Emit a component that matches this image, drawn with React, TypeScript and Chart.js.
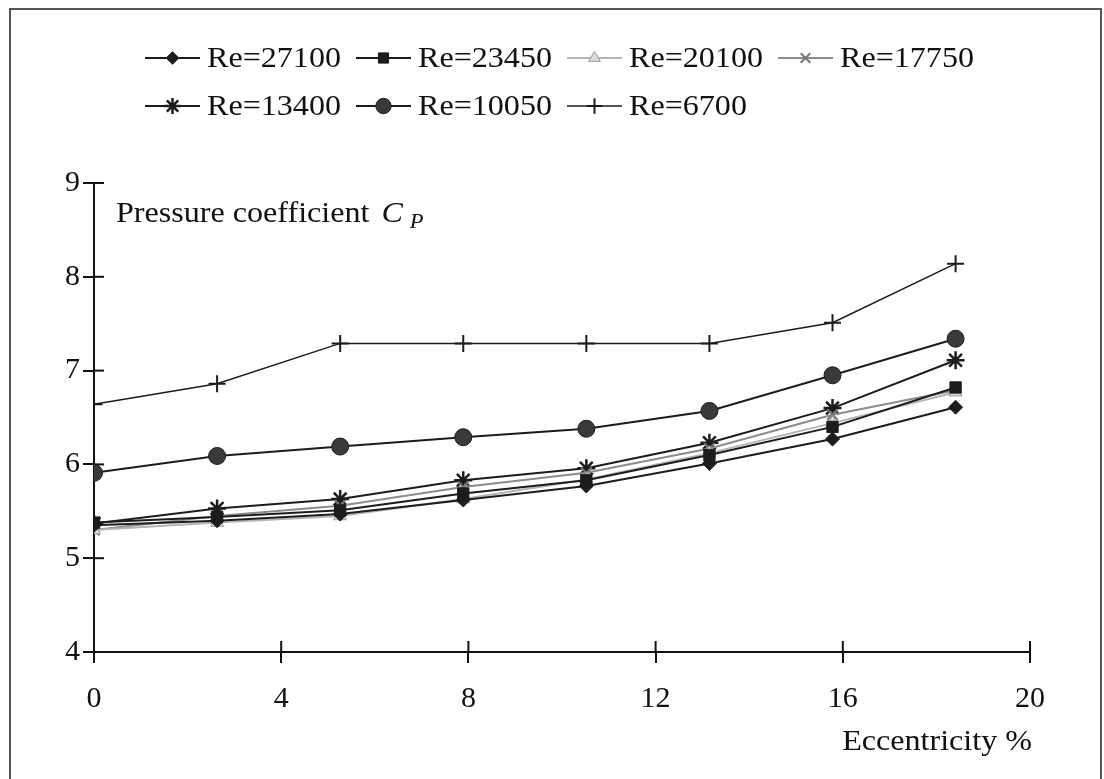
import React, { useEffect, useRef } from 'react';
import { Chart, registerables } from 'chart.js';
import { drawPoint } from 'chart.js/helpers';

Chart.register(...registerables);

const FONT = "'Liberation Serif', 'Times New Roman', Times, serif";

// ---- data ----
const eccentricity = [0, 2.63, 5.26, 7.89, 10.52, 13.15, 15.78, 18.41];
const seriesLabels = ['Re=27100', 'Re=23450', 'Re=20100', 'Re=17750', 'Re=13400', 'Re=10050', 'Re=6700'];
const re27100 = [5.35, 5.40, 5.47, 5.62, 5.77, 6.01, 6.27, 6.61];
const re23450 = [5.38, 5.44, 5.51, 5.69, 5.83, 6.10, 6.40, 6.82];
const re20100 = [5.30, 5.38, 5.45, 5.63, 5.84, 6.12, 6.44, 6.77];
const re17750 = [5.30, 5.45, 5.56, 5.76, 5.91, 6.17, 6.53, 6.79];
const re13400 = [5.37, 5.53, 5.63, 5.83, 5.96, 6.23, 6.60, 7.11];
const re10050 = [5.91, 6.09, 6.19, 6.29, 6.38, 6.57, 6.95, 7.34];
const re6700 = [6.64, 6.86, 7.29, 7.29, 7.29, 7.29, 7.51, 8.14];
const seriesValues = [re27100, re23450, re20100, re17750, re13400, re10050, re6700];
const xTicks = [0, 4, 8, 12, 16, 20];
const yTicks = [4, 5, 6, 7, 8, 9];
const xTitle = 'Eccentricity %';
const yTitle = 'Pressure coefficient ';

// ---- styles ----
const seriesStyles = [
  { line: '#1c1c1c', width: 2, point: 'rectRot', radius: 7, fill: '#1c1c1c', border: '#1c1c1c', bw: 1 },
  { line: '#1c1c1c', width: 2, point: 'rect', radius: 8, fill: '#1c1c1c', border: '#1c1c1c', bw: 1 },
  { line: '#b4b4b4', width: 2, point: 'triangle', radius: 7.5, fill: '#dcdcdc', border: '#9a9a9a', bw: 1 },
  { line: '#8c8c8c', width: 2, point: 'crossRot', radius: 7.5, fill: '#777', border: '#777', bw: 2 },
  { line: '#1c1c1c', width: 2, point: 'star', radius: 9, fill: '#1c1c1c', border: '#1c1c1c', bw: 2.5 },
  { line: '#1c1c1c', width: 2, point: 'circle', radius: 8.5, fill: '#3a3a3a', border: '#1c1c1c', bw: 1 },
  { line: '#1c1c1c', width: 1.5, point: 'cross', radius: 8.5, fill: '#1c1c1c', border: '#1c1c1c', bw: 2 },
];

const STRETCH = 1.07;

function wideText(ctx: any, text: string, x: number, y: number) {
  ctx.save();
  ctx.translate(x, y);
  ctx.scale(STRETCH, 1);
  ctx.fillText(text, 0, 0);
  ctx.restore();
  return ctx.measureText(text).width * STRETCH;
}

const legendPlugin = {
  id: 'customLegend',
  afterDraw(chart: any) {
    const ctx = chart.ctx;
    chart.data.datasets.forEach((ds: any, i: number) => {
      const row = i < 4 ? 0 : 1;
      const col = i < 4 ? i : i - 4;
      const x0 = 145 + col * 211;
      const y = row === 0 ? 58 : 106;
      ctx.save();
      ctx.strokeStyle = ds.borderColor;
      ctx.lineWidth = ds.borderWidth;
      ctx.beginPath();
      ctx.moveTo(x0, y);
      ctx.lineTo(x0 + 55, y);
      ctx.stroke();
      ctx.fillStyle = ds.pointBackgroundColor;
      ctx.strokeStyle = ds.pointBorderColor;
      ctx.lineWidth = ds.pointBorderWidth;
      drawPoint(ctx, { pointStyle: ds.pointStyle, radius: ds.pointRadius * 0.9, rotation: 0, borderWidth: ds.pointBorderWidth }, x0 + 27.5, y);
      ctx.fillStyle = '#111';
      ctx.font = `30px ${FONT}`;
      ctx.textBaseline = 'middle';
      ctx.textAlign = 'left';
      wideText(ctx, ds.label, x0 + 62, y + 1);
      ctx.restore();
    });
  },
};

const innerTicksPlugin = {
  id: 'innerTicks',
  beforeDatasetsDraw(chart: any) {
    const { ctx, chartArea } = chart;
    const xs = chart.scales.x;
    const ys = chart.scales.y;
    ctx.save();
    ctx.strokeStyle = '#111';
    ctx.lineWidth = 2;
    xs.ticks.forEach((t: any) => {
      const px = xs.getPixelForValue(t.value);
      ctx.beginPath();
      ctx.moveTo(px, chartArea.bottom);
      ctx.lineTo(px, chartArea.bottom - 11);
      ctx.stroke();
    });
    ys.ticks.forEach((t: any) => {
      const py = ys.getPixelForValue(t.value);
      ctx.beginPath();
      ctx.moveTo(chartArea.left, py);
      ctx.lineTo(chartArea.left + 10, py);
      ctx.stroke();
    });
    ctx.restore();
  },
};

const titlesPlugin = {
  id: 'titles',
  afterDraw(chart: any) {
    const { ctx, chartArea } = chart;
    ctx.save();
    ctx.fillStyle = '#111';
    ctx.textBaseline = 'alphabetic';
    ctx.textAlign = 'left';
    ctx.font = `30px ${FONT}`;
    const tx = 116;
    const ty = 222;
    const w1 = wideText(ctx, yTitle, tx, ty);
    ctx.font = `italic 30px ${FONT}`;
    const w2 = wideText(ctx, 'C', tx + w1 + 4, ty);
    ctx.font = `italic 21px ${FONT}`;
    wideText(ctx, 'P', tx + w1 + 4 + w2 + 7, ty + 6);
    ctx.font = `30px ${FONT}`;
    const wx = ctx.measureText(xTitle).width * STRETCH;
    wideText(ctx, xTitle, chartArea.right + 2 - wx, 750);
    ctx.restore();
  },
};

export default function App() {
  const canvasRef = useRef<HTMLCanvasElement | null>(null);

  useEffect(() => {
    const canvas = canvasRef.current;
    if (!canvas) return;
    const datasets = seriesLabels.map((label, i) => {
      const s = seriesStyles[i];
      return {
        label,
        data: eccentricity.map((x, j) => ({ x, y: seriesValues[i][j] })),
        borderColor: s.line,
        borderWidth: s.width,
        pointStyle: s.point,
        pointRadius: s.radius,
        pointBackgroundColor: s.fill,
        pointBorderColor: s.border,
        pointBorderWidth: s.bw,
        tension: 0,
        fill: false,
      };
    });
    const tickFont = { family: FONT, size: 30 };
    const chart = new Chart(canvas, {
      type: 'line',
      data: { datasets },
      options: {
        animation: false,
        responsive: false,
        devicePixelRatio: 1,
        events: [],
        layout: { padding: { top: 183, left: 0, right: 74, bottom: 0 } },
        plugins: {
          legend: { display: false },
          tooltip: { enabled: false },
          title: { display: false },
        },
        scales: {
          x: {
            type: 'linear',
            min: 0,
            max: 20,
            afterFit: (s: any) => { s.height = 127; },
            afterBuildTicks: (s: any) => { s.ticks = xTicks.map((v) => ({ value: v })); },
            ticks: { color: '#111', font: tickFont, padding: 18, maxRotation: 0, autoSkip: false },
            grid: { drawOnChartArea: false, drawTicks: true, tickLength: 11, color: '#111', lineWidth: 2 },
            border: { display: true, color: '#111', width: 2 },
          },
          y: {
            type: 'linear',
            min: 4,
            max: 9,
            afterFit: (s: any) => { s.width = 94; },
            afterBuildTicks: (s: any) => { s.ticks = yTicks.map((v) => ({ value: v })); },
            ticks: { color: '#111', font: tickFont, padding: 3, autoSkip: false },
            grid: { drawOnChartArea: false, drawTicks: true, tickLength: 11, color: '#111', lineWidth: 2 },
            border: { display: true, color: '#111', width: 2 },
          },
        },
      },
      plugins: [innerTicksPlugin, legendPlugin, titlesPlugin],
    } as any);
    return () => chart.destroy();
  }, []);

  return (
    <div style={{ position: 'fixed', left: 0, top: 0, width: 1104, height: 779, overflow: 'hidden', background: '#fff' }}>
      <canvas ref={canvasRef} width={1104} height={779} style={{ position: 'absolute', left: 0, top: 0, width: 1104, height: 779 }} />
      <div style={{ position: 'absolute', left: 9, top: 8, width: 1093, height: 800, border: '2px solid #555', boxSizing: 'border-box', pointerEvents: 'none' }} />
    </div>
  );
}
